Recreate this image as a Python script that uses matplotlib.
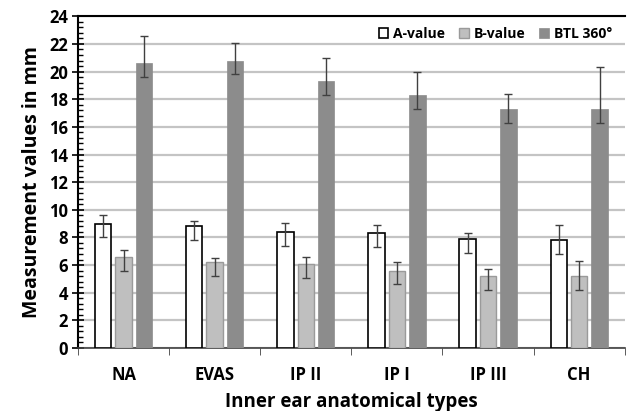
import matplotlib
matplotlib.use("Agg")
import matplotlib.pyplot as plt
import numpy as np
from matplotlib.ticker import MultipleLocator

plt.rcParams['font.family'] = ['Open Sans', 'DejaVu Sans']

categories = ["NA", "EVAS", "IP II", "IP I", "IP III", "CH"]
series_names = ["A-value", "B-value", "BTL 360°"]

a_mean = [9.0, 8.8, 8.4, 8.3, 7.9, 7.8]
a_hi = [9.6, 9.2, 9.05, 8.9, 8.3, 8.9]
a_lo = [8.0, 7.8, 7.4, 7.3, 6.9, 6.8]

b_mean = [6.6, 6.2, 6.1, 5.6, 5.2, 5.2]
b_hi = [7.1, 6.5, 6.6, 6.2, 5.7, 6.3]
b_lo = [5.6, 5.2, 5.1, 4.6, 4.2, 4.2]

btl_mean = [20.6, 20.8, 19.3, 18.3, 17.3, 17.3]
btl_hi = [22.6, 22.1, 21.0, 20.0, 18.4, 20.3]
btl_lo = [19.6, 19.8, 18.3, 17.3, 16.3, 16.3]

fig = plt.figure(figsize=(6.27, 4.11), dpi=100)
ax = fig.add_axes([0.1244, 0.1533, 0.872, 0.807])

x = np.arange(len(categories))
width = 0.18
offset = 0.224

series = [
    (a_mean, a_hi, a_lo, "white", "black", 1.2),
    (b_mean, b_hi, b_lo, "#bfbfbf", "#9a9a9a", 1.0),
    (btl_mean, btl_hi, btl_lo, "#8c8c8c", "#8c8c8c", 0.5),
]

for i, (m, hi, lo, fc, ec, lw) in enumerate(series):
    m = np.array(m)
    yerr = [m - np.array(lo), np.array(hi) - m]
    pos = x + (i - 1) * offset
    ax.bar(pos, m, width, color=fc, edgecolor=ec, linewidth=lw,
           label=series_names[i], zorder=3)
    ax.errorbar(pos, m, yerr=yerr, fmt="none", ecolor="#404040",
                elinewidth=1.0, capsize=3, capthick=1.0, zorder=4)

ax.set_xlim(-0.5, len(categories) - 0.5)
ax.set_ylim(0, 24)
ax.yaxis.set_major_locator(MultipleLocator(2))
ax.yaxis.set_minor_locator(MultipleLocator(0.4))
ax.grid(axis="y", color="#c4c4c4", linewidth=1.6, zorder=0)
ax.set_axisbelow(True)

ax.set_xticks(x)
ax.set_xticklabels(categories, fontsize=12, fontweight="bold")
ax.set_xticks(np.arange(len(categories) + 1) - 0.5, minor=True)
ax.tick_params(axis="x", which="major", length=0, pad=13)
ax.tick_params(axis="x", which="minor", length=5, direction="out", color="#404040")
ax.tick_params(axis="y", which="major", length=8, direction="inout", width=1.2,
               labelsize=12, pad=3)
ax.tick_params(axis="y", which="minor", length=3.5, direction="in", width=1.0)
for lbl in ax.get_yticklabels():
    lbl.set_fontweight("bold")

ax.spines["right"].set_visible(False)
ax.spines["top"].set_color("black")
ax.spines["top"].set_linewidth(1.5)
ax.spines["left"].set_linewidth(1.5)
ax.spines["bottom"].set_color("#404040")
ax.spines["bottom"].set_linewidth(1.2)

ax.set_xlabel("Inner ear anatomical types", fontsize=13.5, fontweight="bold", labelpad=6)
ax.set_ylabel("Measurement values in mm", fontsize=14, fontweight="bold", labelpad=5)

leg = ax.legend(loc="upper right", ncol=3, frameon=False,
                prop={"weight": "bold", "size": 10}, handlelength=0.7,
                handleheight=0.7, handletextpad=0.35, columnspacing=1.0,
                bbox_to_anchor=(1.0, 1.005))

fig.savefig("out.png", dpi=100, facecolor="white")
